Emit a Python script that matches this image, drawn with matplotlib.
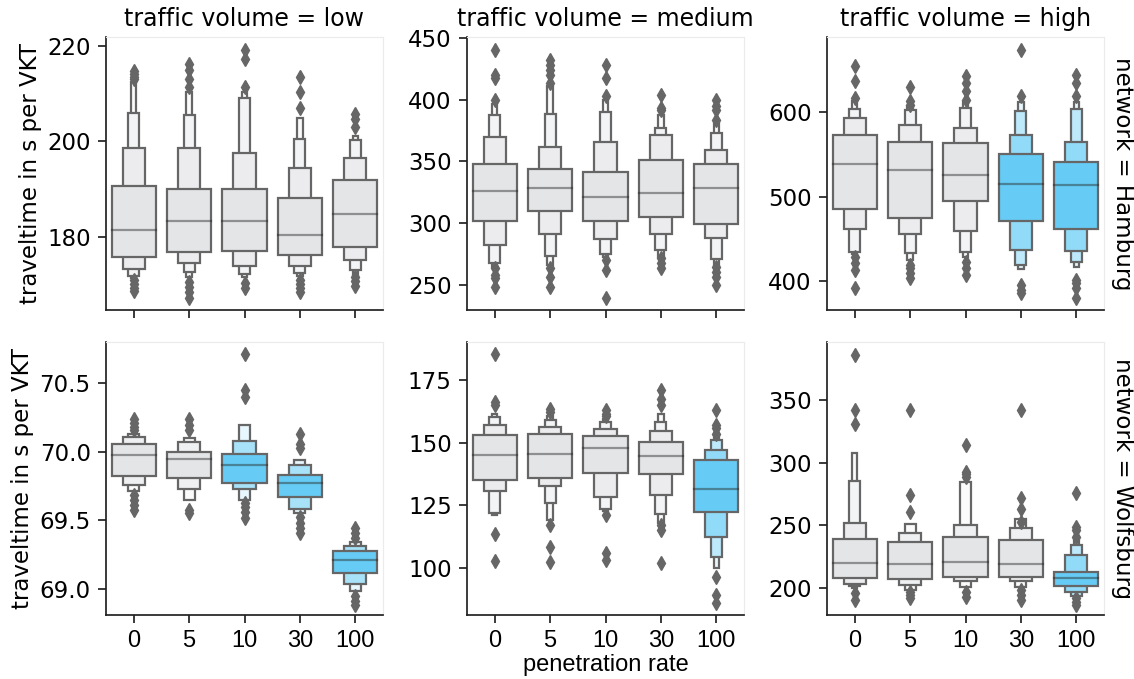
import numpy as np
import matplotlib
matplotlib.use("Agg")
import matplotlib.pyplot as plt
from matplotlib.colors import to_rgb
from matplotlib.patches import Rectangle

# penetration rates on the x axis
rates = ["0", "5", "10", "30", "100"]
volumes = ["low", "medium", "high"]
networks = ["Hamburg", "Wolfsburg"]

# ---- Hamburg / low ----
hh_low_median = [181.4, 183.3, 183.3, 180.3, 184.7]
hh_low_upper = [[190.6, 198.7, 206.0, 212.4], [189.9, 198.7, 205.5, 210.4],
                [190.1, 197.6, 209.0, 210.4], [188.2, 194.5, 200.5, 204.8],
                [191.9, 196.6, 200.2, 201.1]]
hh_low_lower = [[175.8, 173.3, 171.8, 171.3], [176.7, 174.4, 172.5, 171.6],
                [177.0, 173.9, 172.1, 171.6], [176.2, 173.9, 172.3, 171.8],
                [177.8, 175.1, 172.9, 172.0]]
hh_low_fliers = [[213.0, 213.6, 214.2, 214.8, 170.8, 170.0, 169.3, 168.6],
                 [211.5, 213.1, 214.9, 216.3, 170.5, 169.5, 168.3, 167.2],
                 [211.4, 217.2, 219.2, 170.2, 169.2],
                 [206.9, 210.4, 213.5, 171.0, 170.0, 169.2, 168.4],
                 [203.0, 204.6, 205.8, 171.6, 170.6, 169.7]]

# ---- Hamburg / medium ----
hh_med_median = [325.7, 328.9, 321.1, 324.3, 328.4]
hh_med_upper = [[347.8, 369.5, 387.8, 396.8], [343.8, 361.6, 388.6, 410.8],
                [341.1, 365.9, 390.0, 399.5], [351.4, 371.4, 377.0, 387.8],
                [347.8, 358.9, 373.0, 381.1]]
hh_med_lower = [[301.4, 282.4, 267.6, 264.3], [310.0, 291.1, 273.5, 266.2],
                [301.9, 287.0, 274.9, 273.0], [305.4, 291.4, 278.4, 273.0],
                [299.5, 288.4, 270.8, 266.0]]
hh_med_fliers = [[400.0, 417.6, 420.3, 440.5, 263.5, 258.1, 255.4, 248.1],
                 [413.5, 420.3, 424.3, 428.4, 432.4, 263.5, 256.8, 248.6],
                 [402.7, 417.6, 428.4, 270.3, 262.2, 239.2],
                 [391.9, 393.2, 404.1, 271.6, 267.6, 263.5],
                 [383.2, 391.9, 394.6, 400.0, 264.3, 260.8, 256.8, 250.0]]

# ---- Hamburg / high ----
hh_high_median = [538.4, 531.7, 525.7, 515.0, 513.9]
hh_high_upper = [[573.3, 593.1, 603.8, 612.9], [564.2, 584.4, 603.0, 607.0],
                 [563.4, 581.2, 604.9, 612.0], [550.7, 572.5, 601.0, 612.0],
                 [541.2, 564.2, 603.8, 612.0]]
hh_high_lower = [[485.3, 461.2, 434.7, 432.0], [474.3, 455.6, 432.7, 425.0],
                 [494.1, 459.2, 434.7, 428.0], [471.5, 436.6, 418.8, 414.0],
                 [462.0, 435.8, 422.0, 416.0]]
hh_high_fliers = [[616.8, 636.6, 655.2, 428.7, 420.8, 412.9, 391.1],
                  [609.0, 612.9, 629.9, 418.8, 414.9, 408.9, 403.0],
                  [614.9, 624.8, 634.7, 642.6, 422.8, 414.9, 406.9],
                  [618.8, 674.3, 395.0, 389.1, 385.1],
                  [618.8, 634.7, 644.6, 401.0, 397.0, 391.1, 379.2]]

# ---- Wolfsburg / low ----
wob_low_median = [69.976, 69.944, 69.903, 69.775, 69.214]
wob_low_upper = [[70.060, 70.104, 70.133], [69.998, 70.068, 70.102],
                 [69.981, 70.077, 70.198], [69.828, 69.903, 69.940],
                 [69.274, 69.315, 69.339]]
wob_low_lower = [[69.826, 69.756, 69.712], [69.811, 69.727, 69.649],
                 [69.775, 69.729, 69.649], [69.669, 69.581, 69.557],
                 [69.117, 69.039, 68.984]]
wob_low_fliers = [[70.160, 70.180, 70.210, 70.242, 69.685, 69.650, 69.613, 69.577],
                  [70.157, 70.194, 70.242, 69.577, 69.552],
                  [70.399, 70.448, 70.714, 69.625, 69.600, 69.560, 69.520],
                  [70.024, 70.060, 70.133, 69.528, 69.480, 69.443, 69.407],
                  [69.371, 69.407, 69.443, 68.947, 68.911, 68.880]]

# ---- Wolfsburg / medium ----
wob_med_median = [145.0, 145.4, 147.9, 144.6, 131.3]
wob_med_upper = [[153.2, 156.9, 160.2, 161.5], [153.3, 156.2, 158.9, 160.5],
                 [152.8, 155.4, 158.2, 159.5], [150.3, 154.5, 158.2, 161.5],
                 [143.0, 146.9, 150.9, 153.2]]
wob_med_lower = [[135.0, 130.6, 121.7, 121.0], [135.9, 132.6, 126.0, 119.1],
                 [137.7, 128.1, 123.5, 122.5], [137.4, 129.0, 121.5, 118.0],
                 [122.4, 112.4, 104.5, 99.8]]
wob_med_fliers = [[164.9, 166.2, 185.2, 113.5, 102.7],
                  [162.2, 163.5, 117.1, 108.5, 102.5],
                  [160.5, 161.5, 162.9, 121.1, 105.8, 103.1],
                  [164.9, 167.5, 171.1, 117.1, 115.1, 101.8],
                  [153.6, 155.6, 156.9, 162.9, 96.5, 89.2, 85.9]]

# ---- Wolfsburg / high ----
wob_high_median = [219.4, 218.6, 220.7, 218.6, 207.4]
wob_high_upper = [[239.3, 251.9, 285.4, 307.8], [236.7, 243.9, 250.8],
                  [240.7, 250.5, 284.6], [238.0, 248.1, 255.3],
                  [212.7, 226.0, 234.0, 238.0]]
wob_high_lower = [[207.4, 202.8, 201.2, 199.4], [206.8, 202.0, 198.0],
                  [208.7, 205.5, 200.2], [208.7, 205.5, 200.7],
                  [201.2, 196.7, 193.2, 192.5]]
wob_high_fliers = [[331.3, 341.9, 385.9, 195.4, 190.1],
                   [260.7, 274.0, 342.5, 196.7, 194.0, 191.4],
                   [288.6, 290.8, 292.6, 314.0, 196.7, 192.7],
                   [252.7, 263.3, 272.1, 341.9, 198.0, 194.0, 190.1],
                   [240.7, 246.0, 248.7, 275.8, 191.4, 188.7, 186.1]]

# boxes drawn in the highlight colour (row, col) -> rate indices
highlight = {(0, 2): [3, 4], (1, 0): [2, 3, 4], (1, 1): [4], (1, 2): [4]}

panels = {
    (0, 0): (hh_low_median, hh_low_upper, hh_low_lower, hh_low_fliers),
    (0, 1): (hh_med_median, hh_med_upper, hh_med_lower, hh_med_fliers),
    (0, 2): (hh_high_median, hh_high_upper, hh_high_lower, hh_high_fliers),
    (1, 0): (wob_low_median, wob_low_upper, wob_low_lower, wob_low_fliers),
    (1, 1): (wob_med_median, wob_med_upper, wob_med_lower, wob_med_fliers),
    (1, 2): (wob_high_median, wob_high_upper, wob_high_lower, wob_high_fliers),
}

yticks = {
    (0, 0): [180, 200, 220], (0, 1): [250, 300, 350, 400, 450],
    (0, 2): [400, 500, 600], (1, 0): [69.0, 69.5, 70.0, 70.5],
    (1, 1): [100, 125, 150, 175], (1, 2): [200, 250, 300, 350],
}
ylims = {
    (0, 0): (164.6, 221.9), (0, 1): (229.7, 450.8), (0, 2): (365.3, 689.3),
    (1, 0): (68.81, 70.80), (1, 1): (81.2, 190.1), (1, 2): (178.1, 396.5),
}
ytickfmt = {(1, 0): "{:.1f}"}

GRAY_BOX = "#e4e5e7"
BLUE_BOX = "#66ccf5"
EDGE = "#666666"
FS = 16.5
XFONT = ["Liberation Sans", "DejaVu Sans"]


def lighten(color, t):
    c = np.array(to_rgb(color))
    return tuple(c + (1 - c) * t)


def boxen(ax, x, med, upper, lower, fliers, base):
    k = len(upper)
    # outer (narrow) levels first so the wide inner box sits on top
    for i in reversed(range(k)):
        w = 0.8 * 0.5 ** i
        t = 0.85 * i / (k - 1) if k > 1 else 0
        ax.add_patch(Rectangle((x - w / 2, lower[i]), w, upper[i] - lower[i],
                               facecolor=lighten(base, t), edgecolor=EDGE,
                               linewidth=1.6, zorder=2 + (k - i) * 0.1))
    ax.plot([x - 0.4, x + 0.4], [med, med], color=".15", alpha=.45,
            linewidth=1.6, zorder=3)
    ax.plot([x] * len(fliers), fliers, linestyle="none", marker="d",
            markersize=7.5, color=EDGE, zorder=3)


fig = plt.figure(figsize=(11.34, 6.79), dpi=100)
lefts = [106, 467, 827]
tops = [37, 342]
W, H = 277, 273

for r in range(2):
    for c in range(3):
        ax = fig.add_axes([lefts[c] / 1134, 1 - (tops[r] + H) / 679, W / 1134, H / 679])
        med, up, lo, fl = panels[(r, c)]
        for j in range(len(rates)):
            base = BLUE_BOX if j in highlight.get((r, c), []) else GRAY_BOX
            boxen(ax, j, med[j], up[j], lo[j], fl[j], base)
        ax.set_xlim(-0.5, 4.5)
        ax.set_ylim(*ylims[(r, c)])
        ax.set_xticks(range(len(rates)))
        ax.set_yticks(yticks[(r, c)])
        fmt = ytickfmt.get((r, c), "{:.0f}")
        ax.set_yticklabels([fmt.format(v) for v in yticks[(r, c)]], fontsize=FS)
        if r == 1:
            ax.set_xticklabels(rates, fontsize=17, family=XFONT)
        else:
            ax.set_xticklabels([])
        ax.tick_params(length=6, width=1.25, color="#222222", pad=5)
        for s in ["left", "bottom"]:
            ax.spines[s].set_linewidth(1.25)
            ax.spines[s].set_color("#222222")
        for s in ["top", "right"]:
            ax.spines[s].set_linewidth(0.8)
            ax.spines[s].set_color("#ebebeb")
        if r == 0:
            ax.set_title(f"traffic volume = {volumes[c]}", fontsize=FS + 0.5, pad=8)
        if c == 0:
            ax.set_ylabel("traveltime in s per VKT", fontsize=FS, labelpad=4)
        if c == 2:
            ax.text(1.065, 0.5, f"network = {networks[r]}", transform=ax.transAxes,
                    rotation=270, va="center", ha="center", fontsize=FS)
        if r == 1 and c == 1:
            ax.set_xlabel("penetration rate", fontsize=17, family=XFONT, labelpad=1)

fig.savefig("out.png", dpi=100)
